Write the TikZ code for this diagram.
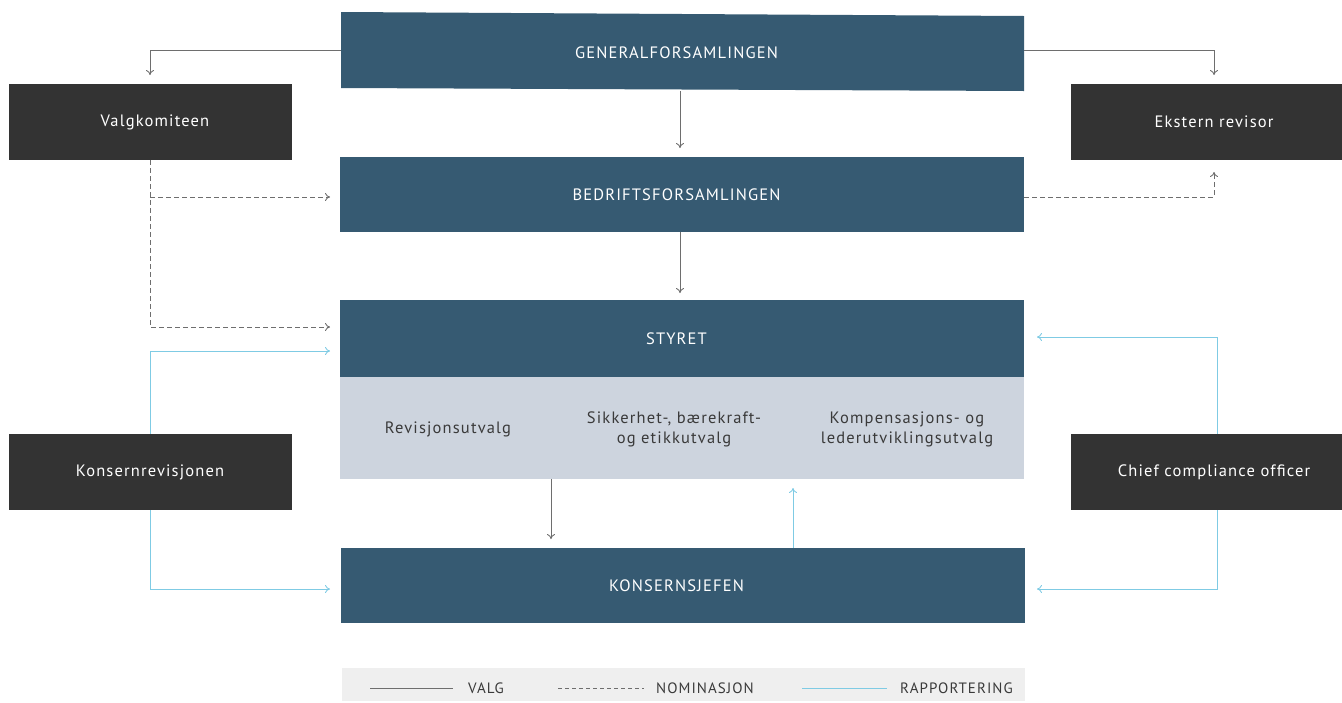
\documentclass[tikz,border=0pt]{standalone}
\usepackage{fontspec}
\setmainfont{PT Sans}[LetterSpace=7]
\usetikzlibrary{arrows.meta}
\definecolor{mainblue}{HTML}{365A72}
\definecolor{darkbox}{HTML}{333333}
\definecolor{commbg}{HTML}{CDD4DE}
\definecolor{legbg}{HTML}{EFEFEF}
\definecolor{grayline}{HTML}{6E6E6E}
\definecolor{blueline}{HTML}{7FCBE4}
\definecolor{txtdark}{HTML}{3A3A3A}
\tikzset{
  boxtext/.style={text=white, inner sep=0pt, font=\fontsize{16.5}{19}\selectfont},
  mainbox/.style={fill=mainblue, minimum width=684pt, minimum height=75pt, inner sep=0pt},
  sideboxL/.style={fill=darkbox, minimum width=283pt, minimum height=76pt, inner sep=0pt},
  sideboxR/.style={sideboxL, minimum width=271pt},
  commtext/.style={text=txtdark, align=center, font=\fontsize{16.5}{20}\selectfont, inner sep=0pt},
  legtext/.style={text=txtdark, anchor=west, font=\fontsize{15}{17}\selectfont, inner sep=0pt},
  arr/.style={-{To[length=5pt,width=8pt]}, line width=0.9pt},
  valg/.style={arr, draw=grayline},
  nomin/.style={arr, draw=grayline, dash pattern=on 5pt off 3pt},
  rapp/.style={arr, draw=blueline}
}
\begin{document}
\begin{tikzpicture}[x=1pt,y=-1pt]
\useasboundingbox (0,0) rectangle (1342,702);
% skewed top box
\fill[mainblue] (341,12) -- (1024,16) -- (1024,91) -- (341,88) -- cycle;
\node[mainbox, fill=none, label={[boxtext, xshift=-6pt]center:GENERALFORSAMLINGEN}] (gen) at (682.5,52.5) {};
\node[mainbox, label={[boxtext, xshift=-5.5pt]center:BEDRIFTSFORSAMLINGEN}] (bed) at (682,194.5) {};
\node[mainbox, minimum height=77pt, label={[boxtext, xshift=-5.5pt]center:STYRET}] (sty) at (682,338.5) {};
\node[fill=commbg, minimum width=684pt, minimum height=102pt, inner sep=0pt] (comm) at (682,428) {};
\node[commtext] (c1) at (448,429) {Revisjonsutvalg};
\node[commtext] (c2) at (674,429) {Sikkerhet-, bærekraft-\\og etikkutvalg};
\node[commtext] (c3) at (907,429) {Kompensasjons- og\\lederutviklingsutvalg};
\node[mainbox, label={[boxtext, xshift=-6.5pt]center:KONSERNSJEFEN}] (ksj) at (683,585.5) {};
\node[sideboxL, label={[boxtext, xshift=5pt]center:Valgkomiteen}] (valgk) at (150,122) {};
\node[sideboxR, label={[boxtext, xshift=7.5pt]center:Ekstern revisor}] (ekst) at (1206.5,122) {};
\node[sideboxL, label={[boxtext]center:Konsernrevisjonen}] (krev) at (150,472) {};
\node[sideboxR, label={[boxtext, xshift=7.5pt]center:Chief compliance officer}] (cco) at (1206.5,472) {};
% helper coordinates
\coordinate (gL) at (341,50);
\coordinate (gR) at (1024,50);
\coordinate (vkTop) at (150,75);
\coordinate (erTop) at (1214,75);
\coordinate (vkBot) at (150,160);
\coordinate (bedIn) at (330,197);
\coordinate (styIn) at (330,327);
\coordinate (bedOut) at (1024,197);
\coordinate (erBot) at (1214,172);
\coordinate (styRepL) at (330,351);
\coordinate (ksjRepL) at (330,589);
\coordinate (styRepR) at (1037,337);
\coordinate (ksjRepR) at (1037,589);
% VALG
\draw[valg] (gL) -| (vkTop);
\draw[valg] (gR) -| (erTop);
\draw[valg] (680,91) -- (680,148);
\draw[valg] (bed.south -| 680,0) -- (680,293);
\draw[valg] (comm.south -| 551,0) -- (551,539);
% NOMINASJON
\draw[nomin] (vkBot) |- (styIn);
\draw[nomin] (150,197) -- (bedIn);
\draw[nomin] (bedOut) -| (erBot);
% RAPPORTERING
\draw[rapp] (krev.north) |- (styRepL);
\draw[rapp] (krev.south) |- (ksjRepL);
\draw[rapp] (cco.north -| 1217,0) |- (styRepR);
\draw[rapp] (cco.south -| 1217,0) |- (ksjRepR);
\draw[rapp] (ksj.north -| 793,0) -- (793,488);
% legend
\node[fill=legbg, minimum width=683pt, minimum height=33pt, inner sep=0pt] (leg) at (683.5,684.5) {};
\draw[grayline, line width=0.9pt] (370,688) -- (453,688);
\node[legtext] (l1) at (468,688) {VALG};
\draw[grayline, line width=0.9pt, dash pattern=on 4pt off 3pt] (558,688) -- (644,688);
\node[legtext] (l2) at (656,688) {NOMINASJON};
\draw[blueline, line width=0.9pt] (802,688) -- (887,688);
\node[legtext] (l3) at (900,688) {RAPPORTERING};
\end{tikzpicture}
\end{document}
